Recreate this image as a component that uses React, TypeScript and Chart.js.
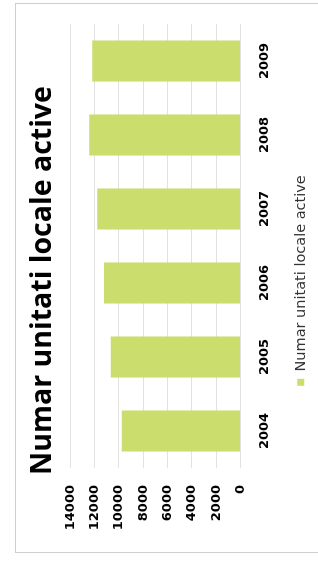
import React, { useEffect, useRef } from 'react';
import { Chart, registerables } from 'chart.js';

Chart.register(...registerables);

const categories = ['2004', '2005', '2006', '2007', '2008', '2009'];
const unitCounts = [9760, 10660, 11230, 11780, 12440, 12190];
const seriesLabel = 'Numar unitati locale active';
const chartTitle = 'Numar unitati locale active';
const valueMin = 0;
const valueMax = 14000;
const valueStep = 2000;

export default function App() {
  const ref = useRef<HTMLCanvasElement>(null);

  useEffect(() => {
    if (!ref.current) return;
    const tickFont = { family: 'DejaVu Sans', weight: 'bold' as const, size: 13 };
    const chart = new Chart(ref.current, {
      type: 'bar',
      data: {
        labels: categories,
        datasets: [
          {
            label: seriesLabel,
            data: unitCounts,
            backgroundColor: '#cbdd6d',
            borderWidth: 0,
            categoryPercentage: 1,
            barPercentage: 0.555,
          },
        ],
      },
      options: {
        animation: false,
        responsive: false,
        devicePixelRatio: 1,
        layout: { padding: { left: 27, right: 24, top: 0, bottom: 0 } },
        plugins: {
          title: {
            display: true,
            text: chartTitle,
            color: '#000',
            font: { family: 'Open Sans', weight: 'bold', size: 28.5 },
            padding: { top: 26, bottom: 10 },
          },
          legend: {
            display: true,
            position: 'bottom',
            labels: {
              boxWidth: 7,
              boxHeight: 7,
              color: '#333',
              font: { family: 'DejaVu Sans', size: 14.5 },
              padding: 8,
            },
          },
          tooltip: { enabled: false },
        },
        scales: {
          x: {
            grid: { display: false },
            border: { display: false },
            ticks: { color: '#000', font: tickFont, padding: 8, maxRotation: 0 },
            afterFit: (s: any) => {
              s.height = 45;
            },
          },
          y: {
            min: valueMin,
            max: valueMax,
            ticks: {
              stepSize: valueStep,
              padding: 17,
              color: '#000',
              font: tickFont,
              callback: (v: any) => String(v),
            },
            grid: { color: '#e2e2e2', drawTicks: false },
            border: { display: false },
            afterFit: (s: any) => {
              s.width = 69;
            },
          },
        },
      },
    });
    return () => chart.destroy();
  }, []);

  return (
    <div
      style={{
        position: 'fixed',
        left: 0,
        top: 0,
        width: 318,
        height: 564,
        overflow: 'hidden',
        background: '#fff',
      }}
    >
      <div
        style={{
          position: 'absolute',
          left: 15,
          top: 3,
          width: 320,
          height: 548,
          border: '1px solid #cfcfcf',
          borderRight: 'none',
        }}
      />
      <canvas
        ref={ref}
        width={564}
        height={318}
        style={{
          position: 'absolute',
          left: 0,
          top: 0,
          width: 564,
          height: 318,
          transformOrigin: '0 0',
          transform: 'translate(0px, 564px) rotate(-90deg)',
        }}
      />
    </div>
  );
}
